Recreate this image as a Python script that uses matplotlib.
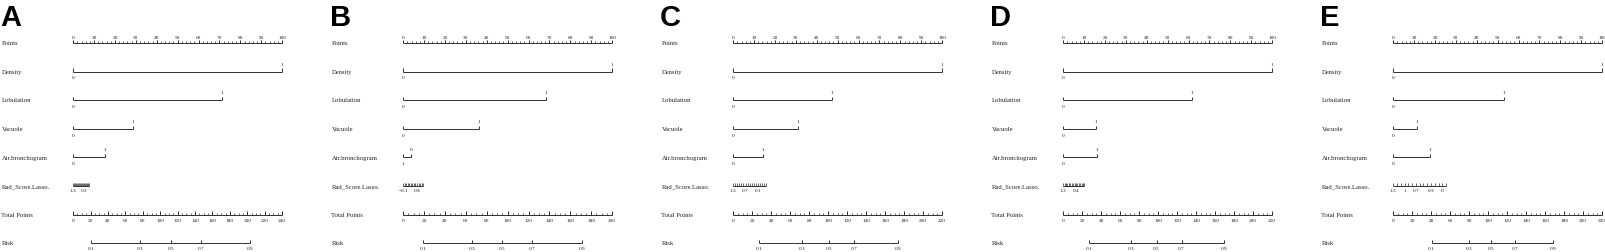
import numpy as np
import matplotlib.pyplot as plt

# nomogram values (points scale 0-100)
letters = ['A', 'B', 'C', 'D', 'E']
row_names = ['Points', 'Density', 'Lobulation', 'Vacuole', 'Air.bronchogram',
             'Rad_Score.Lasso.', 'Total Points', 'Risk']

density_pts = [100, 100, 100, 100, 100]
lobulation_pts = [71.3, 68.4, 47.4, 61.7, 53.1]
vacuole_pts = [28.7, 36.4, 31.1, 15.8, 11.5]
air_pts = [15.3, 3.8, 14.4, 16.3, 17.7]
air_low = ['0', '1', '0', '0', '0']
air_high = ['1', '0', '1', '1', '1']

rad_start = [1.3, -0.1, 1.3, 1.3, 1.3]
rad_end = [-0.3, 1.2, -0.3, -0.2, -0.1]
rad_end_pts = [7.7, 9.6, 15.8, 10.2, 25.4]
rad_labels = [[1.3, 0.2], [-0.1, 0.8], [1.3, 0.7, 0.1], [1.3, 0.4], [1.3, 1, 0.7, 0.3, 0]]

total_max = [240, 200, 220, 220, 220]
risk_labels = ['0.1', '0.3', '0.5', '0.7', '0.9']
risk_total = [[20.7, 77, 112.5, 147, 203],
              [19.4, 66.3, 95, 123.2, 171],
              [27.7, 72.9, 101, 127.7, 173.4],
              [27, 71, 98.3, 124.6, 169.2],
              [40.4, 79.7, 102.8, 128.4, 168.4]]

labelFont = {'family': 'Liberation Serif', 'size': 4.8, 'color': '#202020'}
tickFont = {'family': 'Liberation Serif', 'size': 3.8, 'color': '#202020'}
letterFont = {'family': 'Liberation Sans', 'size': 21, 'weight': 'bold'}

W, H = 1605, 252
lw = 0.7
lc = '#303030'
TL = 0.11   # major tick length (row units)
TS = 0.07   # minor tick length


def lab(ax, txt, x, y, dy):
    ax.annotate(txt, xy=(x, y), xytext=(0, dy), textcoords='offset points',
                ha='center', va='center', **tickFont)


def cat_row(ax, r, pts, lo, hi):
    ax.hlines(r, 0, pts, color=lc, lw=lw)
    ax.vlines([0, pts], r, r - TL, color=lc, lw=lw)
    lab(ax, lo, 0, r, -5)
    lab(ax, hi, pts, r, 5)


fig = plt.figure(figsize=(W / 100, H / 100), dpi=100)

for k in range(5):
    ax = fig.add_axes([330 * k / W, 0, 330.2 / W, 1])
    ax.set_xlim(-35, 123)
    ax.set_ylim(7.31, -1.50)
    ax.axis('off')

    ax.text(0, 0.985, letters[k], transform=ax.transAxes, ha='left', va='top',
            fontdict=letterFont)
    for r, name in enumerate(row_names):
        ax.text(-34.3, r + 0.03, name, ha='left', va='center', fontdict=labelFont)

    # Points
    ax.hlines(0, 0, 100, color=lc, lw=lw)
    ax.vlines(np.arange(0, 101, 2), 0, -TS, color=lc, lw=0.5)
    major = np.arange(0, 101, 10)
    ax.vlines(major, 0, -TL, color=lc, lw=lw)
    for m in major:
        lab(ax, str(m), m, 0, 3.6)

    cat_row(ax, 1, density_pts[k], '0', '1')
    cat_row(ax, 2, lobulation_pts[k], '0', '1')
    cat_row(ax, 3, vacuole_pts[k], '0', '1')
    cat_row(ax, 4, air_pts[k], air_low[k], air_high[k])

    # Rad score
    n = int(round(abs(rad_end[k] - rad_start[k]) / 0.1)) + 1
    vals = np.linspace(rad_start[k], rad_end[k], n)
    scale = rad_end_pts[k] / (rad_end[k] - rad_start[k])
    xs = (vals - rad_start[k]) * scale
    ax.hlines(5, 0, rad_end_pts[k], color=lc, lw=lw)
    ax.vlines(xs, 5, 5 - TL, color=lc, lw=0.5)
    for v in rad_labels[k]:
        lab(ax, ('%g' % v).replace('-', '\u2212'), (v - rad_start[k]) * scale, 5, -3.3)

    # Total points
    tp = np.arange(0, total_max[k] + 1, 5)
    ax.hlines(6, 0, 100, color=lc, lw=lw)
    ax.vlines(tp / total_max[k] * 100, 6, 6 - TS, color=lc, lw=0.5)
    tmaj = np.arange(0, total_max[k] + 1, 20)
    ax.vlines(tmaj / total_max[k] * 100, 6, 6 - TL, color=lc, lw=lw)
    for t in tmaj:
        lab(ax, str(t), t / total_max[k] * 100, 6, -4.3)

    # Risk
    rx = np.array(risk_total[k]) / total_max[k] * 100
    ax.hlines(7, rx[0], rx[-1], color=lc, lw=lw)
    ax.vlines(rx, 7, 7 - TL, color=lc, lw=lw)
    for x, t in zip(rx, risk_labels):
        lab(ax, t, x, 7, -4.3)

fig.savefig('out.png', dpi=100)
